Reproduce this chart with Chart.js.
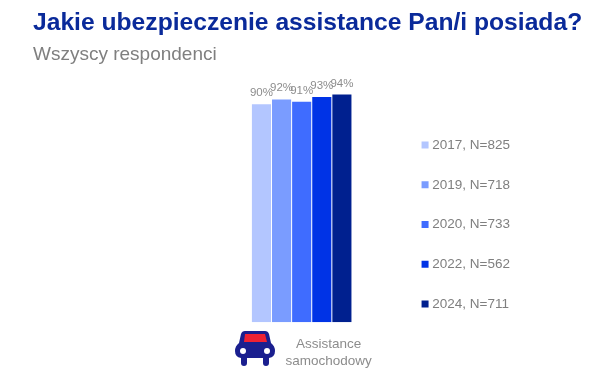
<!DOCTYPE html>
<html lang="pl">
<head>
<meta charset="utf-8">
<title>Assistance</title>
<script src="https://cdn.jsdelivr.net/npm/chart.js@4"></script>
<style>
  html, body { margin: 0; padding: 0; background: #fff; overflow: hidden; }
  #wrap { position: relative; width: 605px; height: 377px; font-family: "Liberation Sans", Arial, sans-serif; }
  #wrap canvas { position: absolute; left: 0; top: 0; }
  #tytul { position: absolute; left: 33px; top: 8px; font-size: 24.65px; font-weight: bold; color: #0a2a9a; white-space: nowrap; }
  #podtytul { position: absolute; left: 33px; top: 43px; font-size: 19px; color: #7f7f7f; white-space: nowrap; }
  #auto { position: absolute; left: 235px; top: 330px; }
</style>
</head>
<body>
<div id="wrap">
  <canvas id="wykres" width="605" height="377"></canvas>
  <div id="tytul">Jakie ubezpieczenie assistance Pan/i posiada?</div>
  <div id="podtytul">Wszyscy respondenci</div>
  <svg id="auto" width="41" height="38" viewBox="0 0 41 38">
    <path d="M10 1 H30 Q33 1 34 4 L36 13 Q40 16 40 21 Q40 27 34 28 V33 Q34 36 31 36 Q28 36 28 33 V28 H12 V33 Q12 36 9 36 Q6 36 6 33 V28 Q0 27 0 21 Q0 16 4 13 L6 4 Q7 1 10 1 Z" fill="#1a1f8f"/>
    <path d="M10 4 H30 L32 12 H9 Z" fill="#ee2233"/>
    <circle cx="8" cy="21" r="3" fill="#fff"/>
    <circle cx="32" cy="21" r="3" fill="#fff"/>
  </svg>
</div>
<script>
// dane
const kategorie = [['Assistance', 'samochodowy']];
const serie = ['2017, N=825', '2019, N=718', '2020, N=733', '2022, N=562', '2024, N=711'];
const wartosci = [90, 92, 91, 93, 94];
const kolory = ['#b3c6ff', '#7a9cff', '#3f6cff', '#0033e6', '#00208f'];

// etykiety % nad slupkami
const etykiety = {
  id: 'etykiety',
  afterDatasetsDraw(chart) {
    const ctx = chart.ctx;
    ctx.save();
    ctx.font = '11.5px "Liberation Sans"';
    ctx.fillStyle = '#8c8c8c';
    ctx.textAlign = 'center';
    ctx.textBaseline = 'alphabetic';
    chart.data.datasets.forEach((ds, i) => {
      const el = chart.getDatasetMeta(i).data[0];
      ctx.fillText(ds.data[0] + '%', el.x, el.y - 8);
    });
    ctx.restore();
  }
};

new Chart(document.getElementById('wykres').getContext('2d'), {
  type: 'bar',
  data: {
    labels: kategorie,
    datasets: serie.map((s, i) => ({ label: s, data: [wartosci[i]], backgroundColor: kolory[i] }))
  },
  options: {
    responsive: false,
    animation: false,
    layout: { padding: { left: 205, top: 74, right: 85, bottom: 2 } },
    datasets: { bar: { categoryPercentage: 0.52, barPercentage: 0.95 } },
    scales: {
      x: {
        grid: { display: false },
        border: { display: false },
        ticks: { color: '#8c8c8c', font: { size: 13.5, family: '"Liberation Sans"', lineHeight: 1.25 }, labelOffset: 27, padding: 5.5, maxRotation: 0 }
      },
      y: { display: false, min: 0, max: 102.5 }
    },
    plugins: {
      tooltip: { enabled: false },
      legend: {
        position: 'right',
        labels: {
          usePointStyle: true,
          pointStyle: 'rect',
          boxHeight: 7,
          boxWidth: 1,
          padding: 26.2,
          color: '#7f7f7f',
          font: { size: 13.5, family: '"Liberation Sans"' }
        }
      }
    }
  },
  plugins: [etykiety]
});
</script>
</body>
</html>
